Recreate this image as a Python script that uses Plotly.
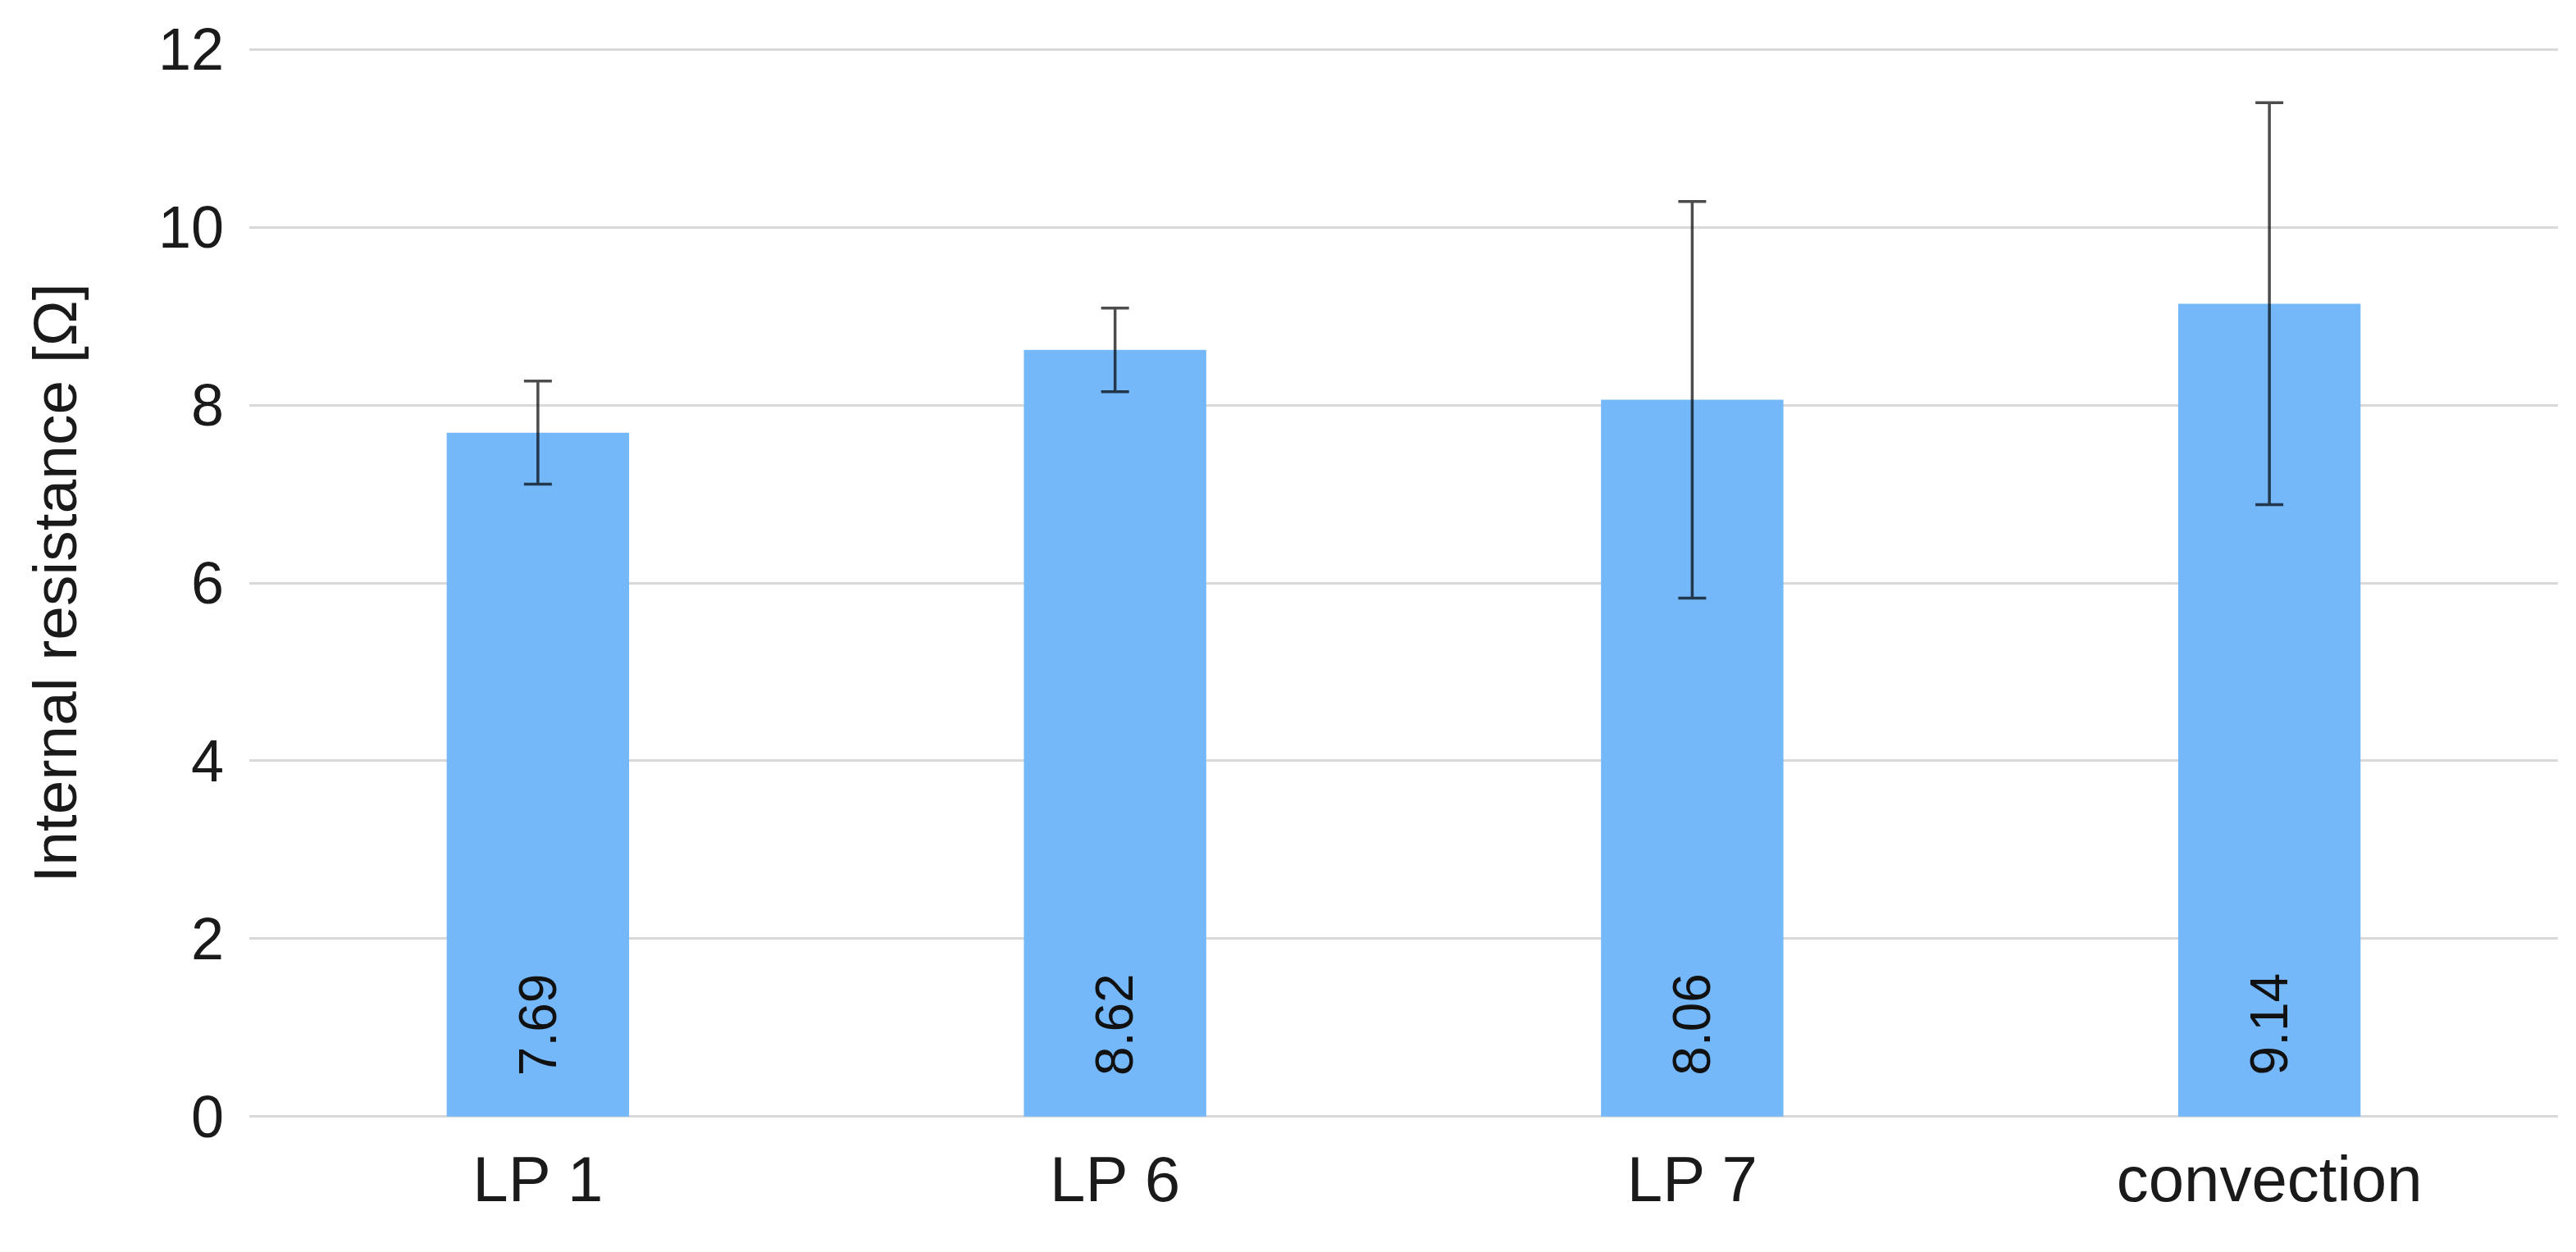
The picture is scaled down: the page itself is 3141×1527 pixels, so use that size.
import plotly.graph_objects as go

categories = ['LP 1', 'LP 6', 'LP 7', 'convection']
resistance = [7.69, 8.62, 8.06, 9.14]
error = [0.58, 0.47, 2.23, 2.26]
labels = ['7.69', '8.62', '8.06', '9.14']

bars = go.Bar(
    x=categories,
    y=resistance,
    marker=dict(color='#74b8fa', line=dict(width=0)),
    error_y=dict(
        type='data',
        array=error,
        visible=True,
        color='rgba(0,0,0,0.7)',
        thickness=3.5,
        width=17
    ),
    hoverinfo='skip'
)

annotations = [
    dict(
        x=c, y=0, xref='x', yref='y',
        text=t, textangle=-90,
        showarrow=False,
        xanchor='center', yanchor='bottom',
        yshift=48,
        font=dict(family='Liberation Sans, Arial', size=64, color='#111111')
    )
    for c, t in zip(categories, labels)
]

layout = go.Layout(
    width=3141,
    height=1527,
    paper_bgcolor='white',
    plot_bgcolor='white',
    showlegend=False,
    bargap=0.684,
    font=dict(family='Liberation Sans, Arial', size=72, color='#1a1a1a'),
    yaxis=dict(
        title=dict(text='Internal resistance [Ω]', standoff=74,
                   font=dict(size=75)),
        range=[-0.02, 12.02],
        dtick=2,
        showgrid=True,
        gridcolor='#d9d9d9',
        gridwidth=3,
        zeroline=True,
        zerolinecolor='#d9d9d9',
        zerolinewidth=3,
        showline=False,
        ticks='',
        ticklabelstandoff=30,
        tickfont=dict(size=72)
    ),
    xaxis=dict(
        showgrid=False,
        zeroline=False,
        showline=False,
        ticks='',
        ticklabelstandoff=22,
        tickfont=dict(size=78)
    ),
    annotations=annotations,
    margin=dict(l=296, r=30, t=48, b=171)
)

fig = go.Figure(data=[bars], layout=layout)
fig.write_html('out.html')
